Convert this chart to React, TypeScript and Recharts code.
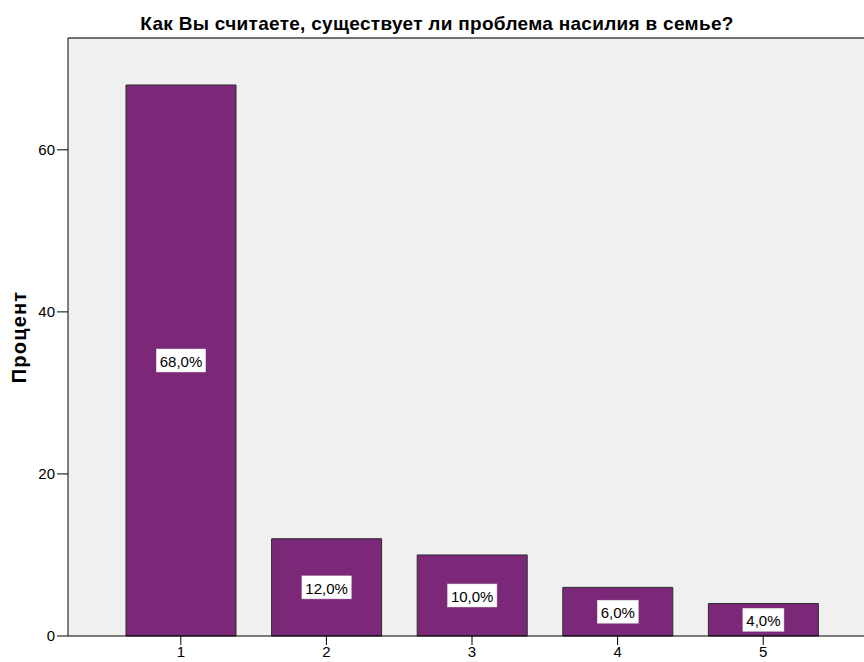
import React from "react";
import { BarChart, Bar, XAxis, YAxis, CartesianGrid, ReferenceLine, LabelList } from "recharts";

const categories = ["1", "2", "3", "4", "5"];
const percents = [68, 12, 10, 6, 4];
const yTicks = [0, 20, 40, 60];

const TITLE = "Как Вы считаете, существует ли проблема насилия в семье?";
const Y_LABEL = "Процент";
const Y_MAX = 73.8;

const data = categories.map((c, i) => ({ cat: c, pct: percents[i] }));

const FONT = "Arial, 'Liberation Sans', sans-serif";

const fmt = (v: number) => v.toFixed(1).replace(".", ",") + "%";

// rough width of 15px Arial text
const textWidth = (s: string) =>
  s.split("").reduce((w, ch) => w + (ch === "," ? 4.2 : ch === "%" ? 13.3 : 8.3), 0);

function ValueBox(props: any) {
  const { x, y, width, height, value } = props;
  const label = fmt(Number(value));
  const cx = Number(x) + Number(width) / 2;
  const cy = Number(y) + Number(height) / 2;
  const w = textWidth(label) + 7;
  const h = 23;
  return (
    <g>
      <rect x={cx - w / 2} y={cy - h / 2} width={w} height={h} fill="#fff" stroke="#ddd" strokeWidth={0.5} />
      <text x={cx} y={cy + 1} textAnchor="middle" dominantBaseline="central" fontSize={15} fontFamily={FONT} fill="#000">
        {label}
      </text>
    </g>
  );
}

export default function App() {
  return (
    <div style={{ position: "absolute", left: 0, top: 0, width: 864, height: 662, background: "#fff" }}>
      <div
        style={{
          position: "absolute",
          top: 13,
          left: 0,
          width: 874,
          textAlign: "center",
          fontFamily: FONT,
          fontWeight: "bold",
          fontSize: 19,
          letterSpacing: 0.3,
          lineHeight: "22px",
          color: "#000",
        }}
      >
        {TITLE}
      </div>
      <BarChart width={864} height={662} data={data} margin={{ top: 38, right: 0, bottom: 0, left: 0 }}>
        <CartesianGrid horizontal={false} vertical={false} fill="#f0f0f0" />
        <XAxis
          dataKey="cat"
          padding={{ left: 40, right: 28 }}
          height={26}
          tickSize={9}
          tickMargin={1}
          stroke="#000"
          tick={{ fontSize: 15, fill: "#000", fontFamily: FONT }}
        />
        <YAxis
          domain={[0, Y_MAX]}
          ticks={yTicks}
          width={68}
          tickSize={11}
          tickMargin={2}
          stroke="#000"
          tick={{ fontSize: 15, fill: "#000", fontFamily: FONT }}
          label={{
            value: Y_LABEL,
            angle: -90,
            position: "insideLeft",
            dx: 14,
            style: {
              fontSize: 20,
              fontWeight: "bold",
              letterSpacing: 1.2,
              fill: "#000",
              fontFamily: FONT,
              textAnchor: "middle",
            },
          }}
        />
        <ReferenceLine y={Y_MAX} stroke="#444" strokeWidth={1.5} />
        <Bar dataKey="pct" fill="#7b2878" stroke="#2b2b2b" strokeWidth={1} barSize={110} isAnimationActive={false}>
          <LabelList dataKey="pct" content={ValueBox} />
        </Bar>
      </BarChart>
    </div>
  );
}
